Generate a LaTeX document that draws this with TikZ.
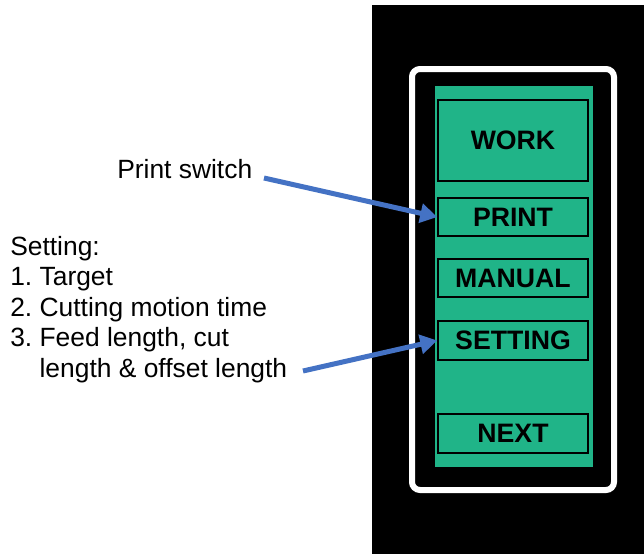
\documentclass[tikz,border=0pt]{standalone}
\usepackage{fontspec}
\setmainfont{Liberation Sans}
\usetikzlibrary{arrows.meta}
\definecolor{panelgreen}{RGB}{32,180,136}
\definecolor{arrowblue}{RGB}{68,114,196}
\frenchspacing
\begin{document}
\begin{tikzpicture}[x=0.75pt,y=-0.75pt,
  btn/.style={draw=black,line width=1.5pt*0.75,fill=panelgreen,minimum width=150*0.75pt,inner sep=0pt,font=\fontsize{20}{24}\selectfont\bfseries},
  lbl/.style={inner sep=0pt,font=\fontsize{19.8}{23}\selectfont,anchor=base west},
  arr/.style={draw=arrowblue,line width=5*0.75pt,-{Triangle[length=17*0.75pt,width=19*0.75pt]}}]
\useasboundingbox (0,0) rectangle (644,554);
\fill[white] (0,0) rectangle (644,554);
\fill[black] (372,5) rectangle (644,554);
\draw[white,line width=6*0.75pt,rounded corners=8*0.75pt] (412,69) rectangle (614,490);
\fill[panelgreen] (435,86) rectangle (593,467);
\node[btn,minimum height=81*0.75pt] (work) at (513,140.5) {WORK};
\node[btn,minimum height=38*0.75pt] (print) at (513,217) {PRINT};
\node[btn,minimum height=38*0.75pt] (manual) at (513,278) {MANUAL};
\node[btn,minimum height=39*0.75pt] (setting) at (513,340.5) {SETTING};
\node[btn,minimum height=39*0.75pt] (next) at (513,433.5) {NEXT};
\node[lbl] (ps) at (117,178) {Print switch};
\node[lbl] (s0) at (10,255) {Setting:};
\node[lbl] (s1) at (10,285.5) {1. Target};
\node[lbl] (s2) at (10,316) {2. Cutting motion time};
\node[lbl] (s3) at (10,346.5) {3. Feed length, cut};
\node[lbl] (s4) at (10,377) {\phantom{3. }length \& offset length};
\coordinate (a1) at (264,178);
\coordinate (a2) at (303,371);
\draw[arr] (a1) -- (print.west);
\draw[arr] (a2) -- (setting.west);
\end{tikzpicture}
\end{document}
